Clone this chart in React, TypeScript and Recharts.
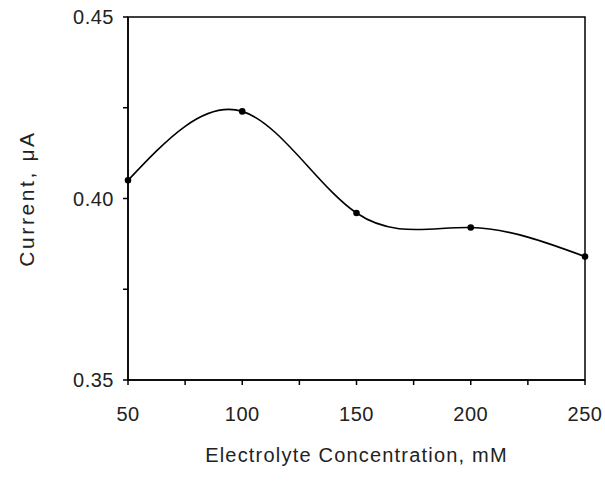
import React from 'react';
import { LineChart, Line, XAxis, YAxis, ReferenceArea, Label } from 'recharts';

const concentrations = [50, 100, 150, 200, 250];
const currents = [0.405, 0.424, 0.396, 0.392, 0.384];

const xTicks = [50, 75, 100, 125, 150, 175, 200, 225, 250];
const xTickLabels = ['50', '', '100', '', '150', '', '200', '', '250'];
const yTicks = [0.35, 0.375, 0.4, 0.425, 0.45];
const yTickLabels = ['0.35', '', '0.40', '', '0.45'];

const data = concentrations.map((c, i) => ({ conc: c, current: currents[i] }));

const font = "'Liberation Sans', Arial, sans-serif";
const tickStyle = { fontSize: 20, fill: '#222', fontFamily: font, letterSpacing: 0.5 };

const App = () => {
  return (
    <div style={{ position: 'absolute', left: 0, top: 0, width: 605, height: 486, background: '#fff' }}>
      <LineChart width={605} height={486} data={data} margin={{ top: 17, right: 20, bottom: 0, left: 0 }}>
        <XAxis
          dataKey="conc"
          type="number"
          domain={[50, 250]}
          ticks={xTicks}
          tickFormatter={(v) => xTickLabels[xTicks.indexOf(v)] ?? ''}
          height={106}
          tickSize={5}
          tickMargin={22}
          stroke="#000"
          strokeWidth={1.5}
          tick={tickStyle}
          interval={0}
        >
          <Label
            value="Electrolyte Concentration, mM"
            position="insideBottom"
            offset={24}
            style={{ fontSize: 20, fill: '#222', fontFamily: font, letterSpacing: 1.2 }}
          />
        </XAxis>
        <YAxis
          type="number"
          domain={[0.35, 0.45]}
          ticks={yTicks}
          tickFormatter={(v) => yTickLabels[yTicks.indexOf(v)] ?? ''}
          width={128}
          tickSize={5}
          tickMargin={9}
          stroke="#000"
          strokeWidth={1.5}
          tick={tickStyle}
          interval={0}
        >
          <Label
            value="Current, μA"
            angle={-90}
            position="insideLeft"
            offset={27}
            style={{ fontSize: 21, fill: '#222', fontFamily: font, letterSpacing: 2.6, textAnchor: 'middle' }}
          />
        </YAxis>
        <ReferenceArea x1={50} x2={250} y1={0.35} y2={0.45} fill="none" stroke="#000" strokeWidth={1.5} />
        <Line
          type="natural"
          dataKey="current"
          stroke="#000"
          strokeWidth={1.6}
          dot={{ r: 2.5, fill: '#000', stroke: '#000' }}
          isAnimationActive={false}
        />
      </LineChart>
    </div>
  );
};

export default App;
